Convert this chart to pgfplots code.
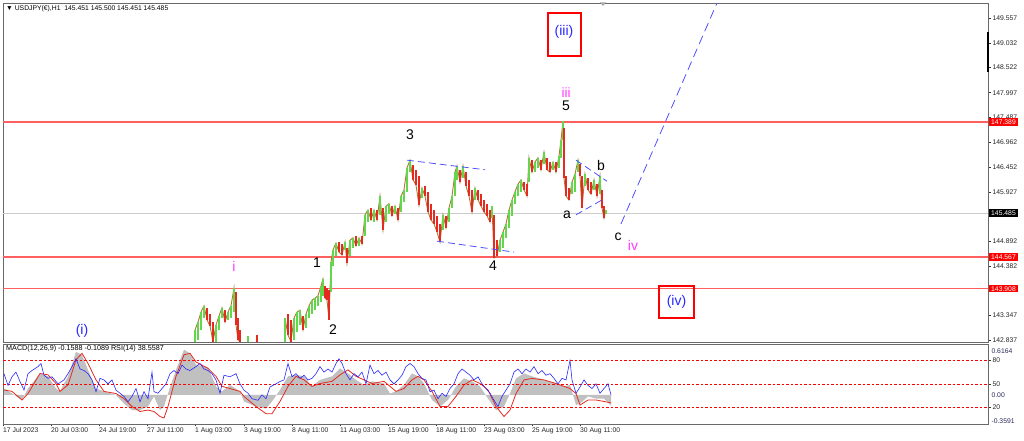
\documentclass[border=0pt]{standalone}
\usepackage{fontspec}
\setmainfont{Liberation Sans}
\usepackage{pgfplots}
\pgfplotsset{compat=1.18}
\usepackage{pgfplotstable}
\definecolor{cgreen}{RGB}{100,214,76}
\definecolor{cred}{RGB}{230,42,32}
\definecolor{cmix}{RGB}{170,120,50}
\definecolor{lvl}{RGB}{255,95,95}
\definecolor{wblue}{RGB}{40,40,255}
\definecolor{wmag}{RGB}{255,60,255}
\definecolor{frm}{RGB}{105,105,105}
\definecolor{histgray}{RGB}{192,192,192}
\definecolor{chanblue}{RGB}{80,80,255}
\newcommand{\sm}{\fontsize{6.8}{8}\selectfont}
\newcommand{\wv}{\fontsize{14}{16}\selectfont}

\pgfplotstableread{
x lo hi
195 142.80 143.05
198 142.84 143.21
201 143.05 143.42
204 143.30 143.55
216 142.80 143.15
219 143.05 143.34
222 143.30 143.51
228 143.26 143.42
231 143.30 143.55
234 143.42 143.92
248 142.80 142.92
285 142.80 143.30
294 142.84 143.30
297 143.00 143.42
300 143.15 143.46
306 143.09 143.38
309 143.30 143.55
312 143.38 143.67
315 143.46 143.71
318 143.55 143.76
321 143.63 143.96
323 143.76 144.11
331 143.84 144.47
333 144.38 144.72
336 144.59 144.86
345 144.72 144.88
350 144.59 144.92
353 144.76 144.97
359 144.80 144.97
365 145.01 145.45
368 145.30 145.55
374 145.30 145.55
380 145.45 145.84
386 145.30 145.63
389 145.47 145.68
395 145.47 145.63
401 145.51 145.84
404 145.72 145.97
407 145.93 146.43
410 146.34 146.59
422 145.80 146.01
443 145.13 145.45
449 145.30 145.59
452 145.59 145.84
455 145.84 146.34
457 146.18 146.47
463 146.22 146.47
475 145.76 146.01
492 145.38 145.63
500 144.67 144.92
503 144.76 145.09
506 144.97 145.26
509 145.18 145.55
512 145.43 145.76
515 145.68 145.93
518 145.84 146.09
521 145.93 146.18
529 146.13 146.64
535 146.34 146.55
538 146.43 146.64
544 146.51 146.76
553 146.39 146.55
559 146.43 146.68
561 146.64 147.01
563 147.01 147.41
572 145.88 146.13
575 145.93 146.30
578 146.34 146.59
585 146.05 146.30
594 145.97 146.18
600 145.88 146.26
606 145.47 145.55
}\greenbars

\pgfplotstableread{
x lo hi
207 143.26 143.51
210 143.13 143.38
213 142.80 143.21
225 143.21 143.46
236 143.15 143.84
238 142.84 143.30
240 142.80 143.05
257 142.80 142.94
288 142.94 143.38
291 142.80 143.26
303 143.05 143.34
325 143.71 143.96
327 143.67 143.92
329 143.26 143.88
339 144.67 144.88
342 144.61 144.84
347 144.44 144.76
356 144.80 145.01
362 144.84 145.01
371 145.34 145.59
377 145.34 145.55
383 145.13 145.59
392 145.43 145.63
398 145.34 145.59
413 146.18 146.49
416 146.07 146.39
419 145.65 146.26
425 145.84 146.05
428 145.51 145.93
431 145.34 145.68
434 145.26 145.55
437 145.09 145.43
440 144.88 145.26
446 145.18 145.43
460 146.13 146.39
466 146.05 146.34
469 145.84 146.18
472 145.51 145.97
478 145.76 145.97
481 145.63 145.88
484 145.51 145.76
487 145.43 145.68
490 145.30 145.55
494 144.55 145.45
497 144.59 144.92
524 145.97 146.13
527 145.84 146.09
532 146.34 146.59
541 146.39 146.59
547 146.39 146.64
550 146.34 146.55
556 146.34 146.55
564 146.22 147.26
566 145.84 146.26
569 145.76 146.01
580 146.26 146.51
582 145.59 146.26
588 145.97 146.22
591 145.88 146.13
597 145.84 146.09
602 145.59 145.97
604 145.38 145.63
}\redbars

% closing level of each bar (top of a rising bar, bottom of a falling one), in time order
\pgfplotstablecreatecol[expr={\thisrow{hi}}]{cl}{\greenbars}
\pgfplotstablecreatecol[expr={\thisrow{lo}}]{cl}{\redbars}
\pgfplotstablevertcat{\allbars}{\greenbars}
\pgfplotstablevertcat{\allbars}{\redbars}
\pgfplotstablesort[sort key=x]{\sortedbars}{\allbars}

\pgfplotstableread{
x v
4 63
8 48
12 59
16 65
20 53
24 42
28 63
32 67
38 72
41 76
44 61
48 57
52 59
58 50
64 55
68 63
72 72
76 82
80 69
84 67
88 63
92 55
96 40
100 57
104 55
108 50
112 55
116 42
120 38
124 34
128 27
132 34
136 44
140 27
144 40
148 31
152 65
154 40
158 38
162 44
166 50
170 63
174 67
178 63
182 74
186 69
190 67
196 72
200 76
204 69
208 67
212 63
216 55
220 38
224 61
230 59
236 63
240 50
244 42
248 38
252 31
258 29
262 36
266 31
270 46
276 50
280 53
284 55
288 76
292 59
296 63
300 57
304 61
308 55
312 57
316 63
320 72
324 65
328 69
332 65
336 76
339 82
342 76
346 63
350 55
354 63
358 59
362 65
366 50
370 74
374 63
378 67
382 61
386 65
390 55
394 50
398 55
402 61
406 72
410 76
414 72
418 63
422 57
426 55
430 40
434 42
438 31
442 38
446 34
450 44
454 50
458 63
462 69
466 65
470 61
474 55
478 59
482 50
486 44
490 38
494 29
498 21
502 34
506 42
510 50
514 65
518 69
522 63
526 69
530 65
534 72
538 63
542 67
546 61
550 63
554 57
558 50
562 57
566 55
570 80
572 55
576 38
580 46
584 55
588 48
592 44
596 50
600 38
604 44
608 50
611 36
}\rsi

\pgfplotstableread{
x v
4 0.09
12 0.02
22 -0.07
28 0.09
40 0.30
48 0.26
56 0.09
60 0.05
68 0.26
76 0.60
82 0.56
88 0.35
96 0.09
104 0.05
116 0.00
124 -0.12
132 -0.21
140 -0.21
148 -0.16
154 -0.02
160 -0.21
164 -0.16
168 0.02
176 0.35
184 0.63
190 0.58
196 0.42
208 0.39
216 0.12
222 0.05
230 0.14
240 0.05
244 -0.09
256 -0.16
266 -0.19
272 -0.09
280 0.07
288 0.26
296 0.28
304 0.26
312 0.12
320 0.21
332 0.26
340 0.37
348 0.30
356 0.21
364 0.14
372 0.19
384 0.16
390 0.02
396 0.05
404 0.14
412 0.30
418 0.26
424 0.16
432 -0.07
440 -0.16
448 -0.07
456 0.12
464 0.23
472 0.19
480 0.12
488 -0.05
496 -0.21
504 -0.16
510 0.02
516 0.23
524 0.30
532 0.26
544 0.21
556 0.16
564 0.12
570 0.14
576 -0.14
580 -0.12
588 -0.02
596 -0.05
604 -0.05
611 -0.15
}\hist

\pgfplotstableread{
x v
4 0.07
12 0.05
22 -0.07
28 0.02
40 0.30
48 0.28
56 0.16
60 0.05
68 0.14
76 0.49
82 0.58
88 0.44
96 0.21
104 0.05
116 0.02
124 -0.05
132 -0.16
140 -0.23
148 -0.21
154 -0.23
160 -0.30
164 -0.32
168 -0.16
176 0.26
184 0.56
190 0.58
196 0.46
208 0.37
216 0.26
222 0.12
230 0.09
240 0.05
244 -0.02
256 -0.16
266 -0.26
272 -0.26
280 -0.09
288 0.12
296 0.26
304 0.21
312 0.12
320 0.16
332 0.19
340 0.28
348 0.35
356 0.26
364 0.21
372 0.16
384 0.19
390 0.12
396 0.05
404 0.09
412 0.21
418 0.26
424 0.21
432 0.05
440 -0.16
448 -0.16
456 -0.02
464 0.14
472 0.21
480 0.16
488 0.07
496 -0.16
504 -0.30
510 -0.21
516 0.02
524 0.21
532 0.23
544 0.21
556 0.16
564 0.12
570 0.09
576 0.02
580 -0.14
588 -0.07
596 -0.07
604 -0.09
611 -0.11
}\sig

\begin{document}
\begin{tikzpicture}[x=1pt,y=1pt]
\path[fill=white] (0,0) rectangle (1024,441);

% ---------------- main price panel ----------------
\begin{axis}[at={(3pt,99pt)}, anchor=south west, scale only axis,
  width=985pt, height=339pt,
  xmin=3, xmax=988, ymin=142.795, ymax=149.87,
  clip mode=individual,
  axis line style={frm, line width=0.8pt},
  xtick=\empty,
  ytick={142.837,143.347,143.872,144.382,144.892,145.417,145.927,146.452,146.962,147.487,147.997,148.522,149.032,149.557},
  yticklabels={142.837,143.347,,144.382,144.892,,145.927,146.452,146.962,147.487,147.997,148.522,149.032,149.557},
  ytick pos=right, yticklabel pos=right, tick align=outside,
  major tick length=2.5pt, tick style={black!80, line width=0.5pt},
  yticklabel style={font=\sm, anchor=west, xshift=-1.5pt, text=black!85},
]
\addplot[lvl, line width=1.4pt, forget plot] coordinates {(3,147.389) (988,147.389)};
\addplot[lvl, line width=1.4pt, forget plot] coordinates {(3,144.567) (988,144.567)};
\addplot[lvl, line width=1.4pt, forget plot] coordinates {(3,143.908) (988,143.908)};
\addplot[black!20, line width=0.8pt, forget plot] coordinates {(3,145.485) (988,145.485)};

% price path joining the bars
\addplot[cmix, line width=0.9pt, x filter/.expression={(x>241 && x<284) ? nan : x}, unbounded coords=jump]
  table[x=x, y=cl] {\sortedbars};
\addplot[draw=none, forget plot, error bars/.cd, y dir=plus, y explicit, error mark=none,
  error bar style={draw=cgreen, line width=2pt}]
  table[x=x, y=lo, y error expr=\thisrow{hi}-\thisrow{lo}] {\greenbars};
\addplot[draw=none, forget plot, error bars/.cd, y dir=plus, y explicit, error mark=none,
  error bar style={draw=cred, line width=2pt}]
  table[x=x, y=lo, y error expr=\thisrow{hi}-\thisrow{lo}] {\redbars};

% channel and projection lines
\addplot[chanblue, dashed, dash pattern=on 7pt off 4pt, line width=0.8pt] coordinates {(407,146.59) (485,146.39)};
\addplot[chanblue, dashed, dash pattern=on 7pt off 4pt, line width=0.8pt] coordinates {(437,144.90) (514,144.67)};
\addplot[chanblue, dashed, dash pattern=on 7pt off 4pt, line width=0.8pt] coordinates {(576,146.59) (607,146.15)};
\addplot[chanblue, dashed, dash pattern=on 7pt off 4pt, line width=0.8pt] coordinates {(576,145.45) (602,145.76)};
\addplot[chanblue, dashed, dash pattern=on 9pt off 5pt, line width=0.8pt] coordinates {(621,145.26) (717,149.87)};

\coordinate (L1) at (axis cs:988,147.389);
\coordinate (L2) at (axis cs:988,145.485);
\coordinate (L3) at (axis cs:988,144.567);
\coordinate (L4) at (axis cs:988,143.908);
\end{axis}

% ---------------- indicator panel: MACD ----------------
\begin{axis}[at={(3pt,17pt)}, anchor=south west, scale only axis,
  width=985pt, height=80pt,
  xmin=3, xmax=988, ymin=-0.404, ymax=0.710,
  axis line style={draw=none}, xtick=\empty,
  ytick={-0.3591,0,0.6164}, yticklabels={-0.3591,0.00,0.6164},
  ytick pos=right, yticklabel pos=right, major tick length=0pt,
  yticklabel style={font=\sm, anchor=west, xshift=0pt, text={rgb,255:red,40;green,40;blue,90}},
]
\addplot[fill=histgray, draw=none] table[x=x, y=v] {\hist} \closedcycle;
\addplot[cred, line width=0.8pt] table[x=x, y=v] {\sig};
\end{axis}

% ---------------- indicator panel: RSI ----------------
\begin{axis}[at={(3pt,17pt)}, anchor=south west, scale only axis,
  width=985pt, height=80pt,
  xmin=3, xmax=988, ymin=-1.3, ymax=100.9,
  axis line style={frm, line width=0.8pt},
  ytick={20,50,80}, yticklabels={20,50,80},
  ytick pos=right, yticklabel pos=right, tick align=outside,
  major tick length=2.5pt, tick style={black!80, line width=0.5pt},
  yticklabel style={font=\sm, anchor=west, xshift=-1.5pt, text=black!85},
  xtick={3,51,99,147,195,244,292,340,388,436,484,532,580},
  xticklabels={17 Jul 2023,20 Jul 03:00,24 Jul 19:00,27 Jul 11:00,1 Aug 03:00,3 Aug 19:00,8 Aug 11:00,11 Aug 03:00,15 Aug 19:00,18 Aug 11:00,23 Aug 03:00,25 Aug 19:00,30 Aug 11:00},
  xtick pos=bottom,
  xticklabel style={font=\sm, anchor=north west, inner sep=1pt, xshift=-1pt, text=black!85},
]
\addplot[red, dashed, dash pattern=on 2.5pt off 2pt, line width=0.6pt] coordinates {(3,80) (988,80)};
\addplot[red, dashed, dash pattern=on 2.5pt off 2pt, line width=0.6pt] coordinates {(3,50) (988,50)};
\addplot[red, dashed, dash pattern=on 2.5pt off 2pt, line width=0.6pt] coordinates {(3,20) (988,20)};
\addplot[wblue, line width=0.6pt] table[x=x, y=v] {\rsi};
\end{axis}

% price boxes on the right scale
\node[fill=red, text=white, anchor=west, font=\sm, inner xsep=2.5pt, inner ysep=1.4pt] at ([xshift=0.5pt]L1) {147.389};
\node[fill=black, text=white, anchor=west, font=\sm, inner xsep=2.5pt, inner ysep=1.4pt] at ([xshift=0.5pt]L2) {145.485};
\node[fill=red, text=white, anchor=west, font=\sm, inner xsep=2.5pt, inner ysep=1.4pt] at ([xshift=0.5pt]L3) {144.567};
\node[fill=red, text=white, anchor=west, font=\sm, inner xsep=2.5pt, inner ysep=1.4pt] at ([xshift=0.5pt]L4) {143.908};
\draw[black, line width=2.5pt] (988,409) -- (988,369);
\fill[black!35] (600,438.5) -- (606,438.5) -- (603,435) -- cycle;

% titles
\node[anchor=west, font=\sm, inner sep=0pt] at (6,432) {▼ USDJPY(€),H1\ \ 145.451 145.500 145.451 145.485};
\node[anchor=west, font=\fontsize{7.2}{8}\selectfont, inner sep=0pt] at (6,92) {MACD(12,26,9) -0.1588 -0.1089 RSI(14) 38.5587};

% wave labels
\node[font=\wv, text=wblue] at (82,110) {(i)};
\node[font=\wv, text=wmag] at (234,175) {i};
\node[font=\wv] at (317,178) {1};
\node[font=\wv] at (333,111) {2};
\node[font=\wv] at (410,306) {3};
\node[font=\wv] at (493,175) {4};
\node[font=\wv, inner sep=0pt] at (566,335.5) {5};
\node[font=\fontsize{13.5}{15}\selectfont, text=wmag, inner sep=0pt] at (566,348.5) {iii};
\node[font=\wv] at (567,226) {a};
\node[font=\wv] at (601,275) {b};
\node[font=\wv] at (618,204) {c};
\node[font=\wv, text=wmag] at (633,196) {iv};
\draw[red, line width=1.2pt] (548,385) rectangle (581,428);
\node[font=\wv, text=wblue] at (564,409) {(iii)};
\draw[red, line width=1.2pt] (659,123) rectangle (694,155);
\node[font=\wv, text=wblue] at (676.5,139) {(iv)};
\end{tikzpicture}
\end{document}
